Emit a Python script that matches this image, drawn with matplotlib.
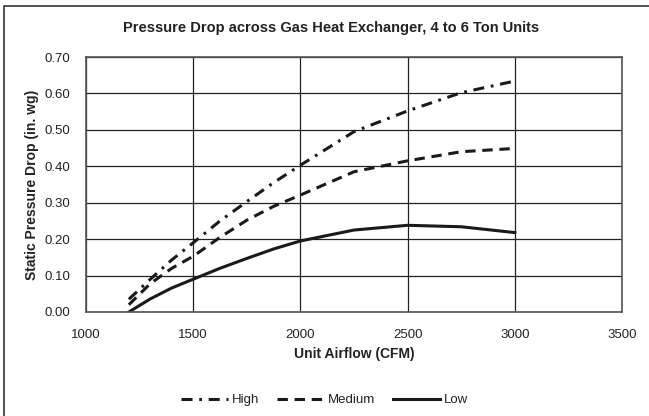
import matplotlib
matplotlib.use("Agg")
import matplotlib.pyplot as plt
from matplotlib.patches import Rectangle

plt.rcParams['font.family'] = ['Liberation Sans', 'DejaVu Sans']

# values
airflow = [1200, 1300, 1400, 1500, 1625, 1750, 1875, 2000, 2250, 2500, 2750, 3000]
high = [0.035, 0.09, 0.143, 0.19, 0.25, 0.303, 0.355, 0.403, 0.495, 0.552, 0.602, 0.634]
medium = [0.02, 0.078, 0.12, 0.153, 0.205, 0.252, 0.29, 0.321, 0.385, 0.415, 0.44, 0.449]
low = [0.0, 0.036, 0.066, 0.09, 0.12, 0.147, 0.173, 0.195, 0.225, 0.238, 0.234, 0.218]

xticks = [1000, 1500, 2000, 2500, 3000, 3500]
yticks = [0.0, 0.1, 0.2, 0.3, 0.4, 0.5, 0.6, 0.7]

W, H = 649, 416
fig = plt.figure(figsize=(W / 100, H / 100), dpi=100)
ax = fig.add_axes([86 / W, 1 - 312 / H, (622 - 86) / W, (312 - 57) / H])

lc = '#1a1a1a'
ax.plot(airflow, high, color=lc, lw=2.2, dashes=(3.6, 2.2, 0.9, 2.2), label='High')
ax.plot(airflow, medium, color=lc, lw=2.2, dashes=(3.4, 2.2), label='Medium')
ax.plot(airflow, low, color=lc, lw=2.2, label='Low')

ax.set_xlim(1000, 3500)
ax.set_ylim(0, 0.7)
ax.set_xticks(xticks)
ax.set_yticks(yticks)
ax.set_xticklabels([str(v) for v in xticks])
ax.set_yticklabels(['%.2f' % v for v in yticks])
ax.grid(True, color='#222222', lw=0.9)
ax.set_axisbelow(True)
ax.tick_params(axis='x', length=0, labelsize=9.5, colors='#222222', pad=12)
ax.tick_params(axis='y', length=0, labelsize=9.5, colors='#222222', pad=11)
for s in ax.spines.values():
    s.set_color('#555555')
    s.set_linewidth(1.2)

fig.text(331 / W, 1 - 28 / H, 'Pressure Drop across Gas Heat Exchanger, 4 to 6 Ton Units',
         ha='center', va='center', fontsize=10.5, fontweight='bold', color='#222222')
ax.set_xlabel('Unit Airflow (CFM)', fontsize=10, fontweight='bold', color='#222222')
ax.set_ylabel('Static Pressure Drop (in. wg)', fontsize=10, fontweight='bold', color='#222222')
ax.xaxis.set_label_coords(0.5, (312 - 354) / 255, transform=ax.transAxes)
ax.yaxis.set_label_coords((32 - 86) / 536, 0.5, transform=ax.transAxes)
ax.xaxis.label.set_va('center')
ax.yaxis.label.set_va('center')

leg = fig.legend(loc='center', bbox_to_anchor=(0.5, 1 - 400 / H), ncol=3, frameon=False,
                 fontsize=9.5, handlelength=3.6, columnspacing=1.3, handletextpad=0.3)
for t in leg.get_texts():
    t.set_color('#222222')

# outer chart frame (cut off at the right and bottom in the reference)
fig.patches.append(Rectangle((4 / W, -0.05), 1.0, 1 - 6 / H + 0.05, transform=fig.transFigure,
                             fill=False, edgecolor='#333333', lw=1.2))

fig.savefig('out.png', dpi=100)
